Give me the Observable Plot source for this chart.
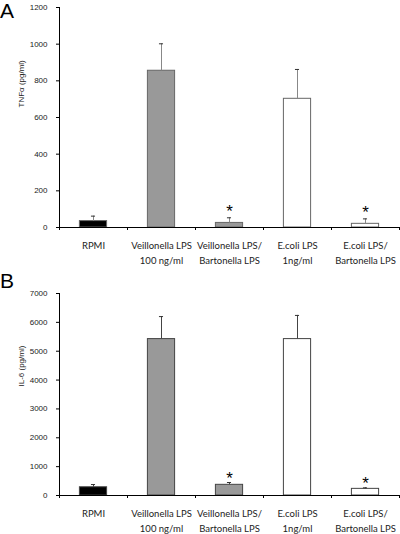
<!DOCTYPE html>
<html>
<head>
<meta charset="utf-8">
<script src="https://cdn.jsdelivr.net/npm/d3@7"></script>
<script src="https://cdn.jsdelivr.net/npm/@observablehq/plot@0.6"></script>
<style>
  html, body { margin: 0; padding: 0; background: #fff; }
  #wrap { position: relative; width: 400px; height: 534px; overflow: hidden; }
  .panel { position: absolute; left: 0; width: 400px; }
  .letter { position: absolute; left: 0; font-family: "Liberation Sans", Arial, sans-serif; font-size: 21px; line-height: 1; color: #000; }
</style>
</head>
<body>
<div id="wrap">
  <div class="panel" id="pA" style="top:0px"></div>
  <div class="panel" id="pB" style="top:267px"></div>
  <div class="letter" style="top:0px">A</div>
  <div class="letter" style="top:270px">B</div>
</div>
<script>
const categories = [
  "RPMI",
  "Veillonella LPS\n100 ng/ml",
  "Veillonella LPS/\nBartonella LPS",
  "E.coli LPS\n1ng/ml",
  "E.coli LPS/\nBartonella LPS"
];
const groups = ["control", "veillonella", "veillonella", "ecoli", "ecoli"];
const significant = [false, false, true, false, true];

const tnfMean = [35, 855, 25, 702, 20];
const tnfErr = [27, 147, 28, 160, 27];
const tnfTicks = [0, 200, 400, 600, 800, 1000, 1200];

const il6Mean = [285, 5420, 370, 5420, 230];
const il6Err = [95, 780, 80, 820, 35];
const il6Ticks = [0, 1000, 2000, 3000, 4000, 5000, 6000, 7000];

function panel(mean, err, ticks, yLabel, opts) {
  const data = categories.map((c, i) => ({
    i, label: c, group: groups[i], mean: mean[i], top: mean[i] + err[i], sig: significant[i]
  }));
  const yMax = ticks[ticks.length - 1];
  const bounds = d3.range(-0.5, categories.length, 1);
  return Plot.plot({
    width: 400,
    height: 267,
    marginLeft: 59,
    marginRight: 1,
    marginTop: opts.marginTop,
    marginBottom: opts.marginBottom,
    style: { fontFamily: "Liberation Sans, Arial, sans-serif", background: "#fff" },
    x: { type: "linear", domain: [-0.5, categories.length - 0.5], axis: null },
    y: { domain: [0, yMax], axis: null },
    color: { domain: ["control", "veillonella", "ecoli"], range: ["#000000", "#999999", "#ffffff"] },
    marks: [
      Plot.rectY(data, {
        x1: d => d.i - 0.2, x2: d => d.i + 0.2, y: "mean",
        fill: "group", stroke: opts.barStroke, strokeWidth: 1
      }),
      Plot.ruleX(data, { x: "i", y1: "mean", y2: "top", stroke: opts.errStroke, strokeWidth: 1 }),
      Plot.ruleY(data, { y: "top", x1: d => d.i - 0.03, x2: d => d.i + 0.03, stroke: "#333", strokeWidth: 1 }),
      Plot.ruleX([-0.5], { stroke: "#000", strokeWidth: 1 }),
      Plot.ruleY([0], { stroke: "#000", strokeWidth: 1 }),
      Plot.axisY({
        ticks, tickSize: 3, tickPadding: 9, fontSize: 8, label: null,
        tickFormat: d3.format("d"), color: "#222", stroke: "#000"
      }),
      Plot.axisX({
        ticks: bounds, tickSize: 3, tickFormat: () => "", label: null, stroke: "#000"
      }),
      Plot.text(data, {
        x: "i", y: 0, text: "label", dy: opts.labelDy, lineAnchor: "top", lineHeight: 1.48,
        fontSize: 9.5, fontFamily: "Lato, sans-serif", fill: "#222"
      }),
      Plot.text(data.filter(d => d.sig), {
        x: "i", y: "top", text: () => "*", dy: opts.starDy, lineAnchor: "middle",
        fontSize: 17, fontFamily: "Liberation Sans, Arial, sans-serif", fill: "#000"
      }),
      Plot.text([yLabel], {
        frameAnchor: "left", dx: -38, dy: opts.titleDy, rotate: -90,
        fontSize: 8, fill: "#222"
      })
    ]
  });
}

document.getElementById("pA").append(
  panel(tnfMean, tnfErr, tnfTicks, "TNFα (pg/ml)",
    { marginTop: 7, marginBottom: 40, barStroke: "#666", errStroke: "#888", starDy: -6, titleDy: -10, labelDy: 12 })
);
document.getElementById("pB").append(
  panel(il6Mean, il6Err, il6Ticks, "IL-6 (pg/ml)",
    { marginTop: 26, marginBottom: 39, barStroke: "#444", errStroke: "#444", starDy: -4, titleDy: -8, labelDy: 12 })
);
</script>
</body>
</html>
